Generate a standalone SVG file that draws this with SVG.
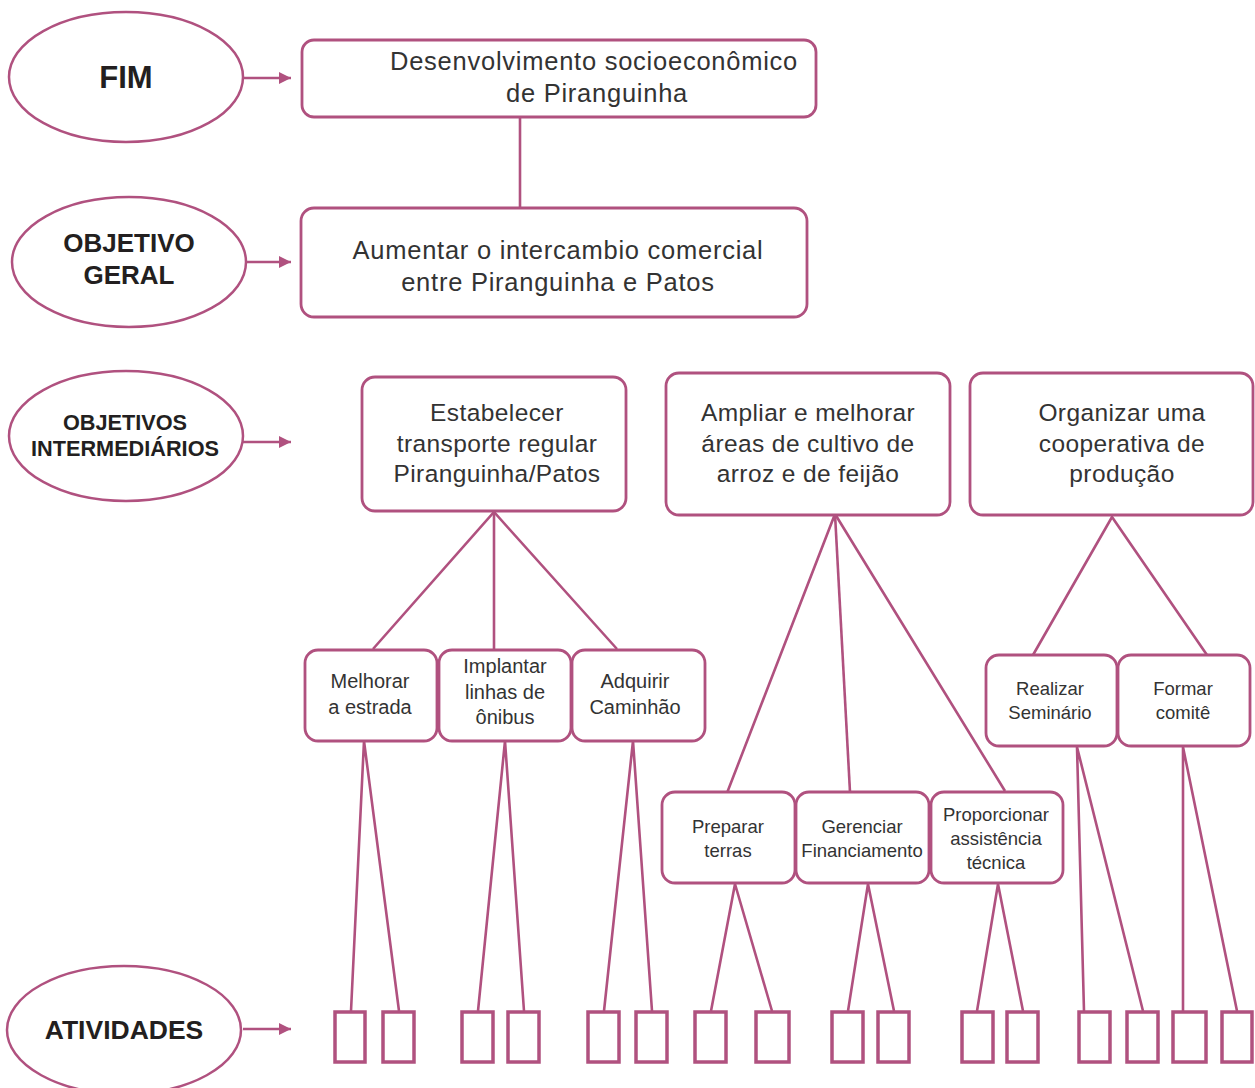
<svg xmlns="http://www.w3.org/2000/svg" width="1255" height="1088" viewBox="0 0 1255 1088">
<style>
.ell{fill:#fff;stroke:#b0517f;stroke-width:2.5}
.box{fill:#fff;stroke:#b0517f;stroke-width:2.8}
.act{fill:#fff;stroke:#b0517f;stroke-width:3.5}
.ln{stroke:#b0517f;stroke-width:2.6;fill:none}
.lab{font-family:"Liberation Sans",Arial,sans-serif;font-weight:bold;fill:#231f20;text-anchor:middle}
.big{font-family:"Liberation Sans",Arial,sans-serif;font-size:24.5px;fill:#333;text-anchor:middle;letter-spacing:0.4px}
.top{font-family:"Liberation Sans",Arial,sans-serif;font-size:25.5px;fill:#333;text-anchor:middle;letter-spacing:0.75px}
.sm1{font-family:"Liberation Sans",Arial,sans-serif;font-size:20px;fill:#333;text-anchor:middle}
.sm2{font-family:"Liberation Sans",Arial,sans-serif;font-size:18.5px;fill:#333;text-anchor:middle}
</style>
<defs>
<marker id="ah" viewBox="0 0 10 10" refX="10" refY="5" markerWidth="14" markerHeight="12" markerUnits="userSpaceOnUse" orient="auto">
<path d="M0,0 L10,5 L0,10 Z" fill="#b0517f"/>
</marker>
</defs>
<rect width="1255" height="1088" fill="#fff"/>

<g id="connectors">
<line class="ln" x1="243" y1="78" x2="291" y2="78" marker-end="url(#ah)"/>
<line class="ln" x1="246" y1="262" x2="291" y2="262" marker-end="url(#ah)"/>
<line class="ln" x1="243" y1="442" x2="291" y2="442" marker-end="url(#ah)"/>
<line class="ln" x1="243" y1="1029" x2="291" y2="1029" marker-end="url(#ah)"/>
<line class="ln" x1="520" y1="117" x2="520" y2="208"/>
<polyline class="ln" points="373,649 494,512 617,649"/>
<line class="ln" x1="494" y1="512" x2="494" y2="649"/>
<polyline class="ln" points="727,793 835,514 1005,791"/>
<line class="ln" x1="835" y1="514" x2="850" y2="792"/>
<polyline class="ln" points="1033,655 1112,517 1207,655"/>
<polyline class="ln" points="351,1011 364,741 399,1011"/>
<polyline class="ln" points="478,1011 505,741 524,1011"/>
<polyline class="ln" points="604,1011 633,741 652,1011"/>
<polyline class="ln" points="711,1011 735,884 772,1011"/>
<polyline class="ln" points="848,1011 868,884 894,1011"/>
<polyline class="ln" points="977,1011 998,884 1023,1011"/>
<polyline class="ln" points="1084,1011 1077,747 1143,1011"/>
<polyline class="ln" points="1183,1011 1183,747 1237,1011"/>
</g>

<g id="fim-label"><ellipse class="ell" cx="126" cy="77" rx="117" ry="65"/><text class="lab" x="126" y="88" font-size="31">FIM</text></g>
<g id="objetivo-geral-label"><ellipse class="ell" cx="129" cy="262" rx="117" ry="65"/><text class="lab" x="129" y="252" font-size="26">OBJETIVO</text><text class="lab" x="129" y="284" font-size="26">GERAL</text></g>
<g id="objetivos-intermediarios-label"><ellipse class="ell" cx="126" cy="436" rx="117" ry="65"/><text class="lab" x="125" y="429.5" font-size="21.7">OBJETIVOS</text><text class="lab" x="125" y="456" font-size="21.7">INTERMEDIÁRIOS</text></g>
<g id="atividades-label"><ellipse class="ell" cx="124" cy="1030" rx="117" ry="64"/><text class="lab" x="124" y="1039" font-size="26.5">ATIVIDADES</text></g>

<g id="fim"><rect class="box" x="302" y="40" width="514" height="77" rx="12"/><text class="top" x="594" y="70">Desenvolvimento socioeconômico</text><text class="top" x="597" y="102">de Piranguinha</text></g>
<g id="objetivo-geral"><rect class="box" x="301" y="208" width="506" height="109" rx="13"/><text class="top" x="558" y="259">Aumentar o intercambio comercial</text><text class="top" x="558" y="291">entre Piranguinha e Patos</text></g>

<g id="oi-transporte"><rect class="box" x="362" y="377" width="264" height="134" rx="13"/><text class="big" x="497" y="421">Estabelecer</text><text class="big" x="497" y="452">transporte regular</text><text class="big" x="497" y="482">Piranguinha/Patos</text></g>
<g id="oi-cultivo"><rect class="box" x="666" y="373" width="284" height="142" rx="13"/><text class="big" x="808" y="421">Ampliar e melhorar</text><text class="big" x="808" y="452">áreas de cultivo de</text><text class="big" x="808" y="482">arroz e de feijão</text></g>
<g id="oi-cooperativa"><rect class="box" x="970" y="373" width="283" height="142" rx="13"/><text class="big" x="1122" y="421">Organizar uma</text><text class="big" x="1122" y="452">cooperativa de</text><text class="big" x="1122" y="482">produção</text></g>

<g id="melhorar"><rect class="box" x="305" y="650" width="132" height="91" rx="13"/><text class="sm1" x="370" y="688">Melhorar</text><text class="sm1" x="370" y="714">a estrada</text></g>
<g id="implantar"><rect class="box" x="439" y="650" width="132" height="91" rx="13"/><text class="sm1" x="505" y="673">Implantar</text><text class="sm1" x="505" y="699">linhas de</text><text class="sm1" x="505" y="724">ônibus</text></g>
<g id="adquirir"><rect class="box" x="572" y="650" width="133" height="91" rx="13"/><text class="sm1" x="635" y="688">Adquirir</text><text class="sm1" x="635" y="714">Caminhão</text></g>

<g id="preparar"><rect class="box" x="662" y="792" width="133" height="91" rx="13"/><text class="sm2" x="728" y="833">Preparar</text><text class="sm2" x="728" y="857">terras</text></g>
<g id="gerenciar"><rect class="box" x="796" y="792" width="133" height="91" rx="13"/><text class="sm2" x="862" y="833">Gerenciar</text><text class="sm2" x="862" y="857">Financiamento</text></g>
<g id="proporcionar"><rect class="box" x="931" y="792" width="132" height="91" rx="13"/><text class="sm2" x="996" y="821">Proporcionar</text><text class="sm2" x="996" y="845">assistência</text><text class="sm2" x="996" y="869">técnica</text></g>

<g id="realizar"><rect class="box" x="986" y="655" width="131" height="91" rx="13"/><text class="sm2" x="1050" y="695">Realizar</text><text class="sm2" x="1050" y="719">Seminário</text></g>
<g id="formar"><rect class="box" x="1118" y="655" width="132" height="91" rx="13"/><text class="sm2" x="1183" y="695">Formar</text><text class="sm2" x="1183" y="719">comitê</text></g>

<g id="atividades">
<rect class="act" x="335" y="1012" width="30" height="50"/>
<rect class="act" x="383" y="1012" width="31" height="50"/>
<rect class="act" x="462" y="1012" width="31" height="50"/>
<rect class="act" x="508" y="1012" width="31" height="50"/>
<rect class="act" x="588" y="1012" width="31" height="50"/>
<rect class="act" x="636" y="1012" width="31" height="50"/>
<rect class="act" x="695" y="1012" width="31" height="50"/>
<rect class="act" x="756" y="1012" width="33" height="50"/>
<rect class="act" x="832" y="1012" width="31" height="50"/>
<rect class="act" x="878" y="1012" width="31" height="50"/>
<rect class="act" x="962" y="1012" width="31" height="50"/>
<rect class="act" x="1007" y="1012" width="31" height="50"/>
<rect class="act" x="1079" y="1012" width="31" height="50"/>
<rect class="act" x="1127" y="1012" width="31" height="50"/>
<rect class="act" x="1173" y="1012" width="33" height="50"/>
<rect class="act" x="1222" y="1012" width="30" height="50"/>
</g>
</svg>
